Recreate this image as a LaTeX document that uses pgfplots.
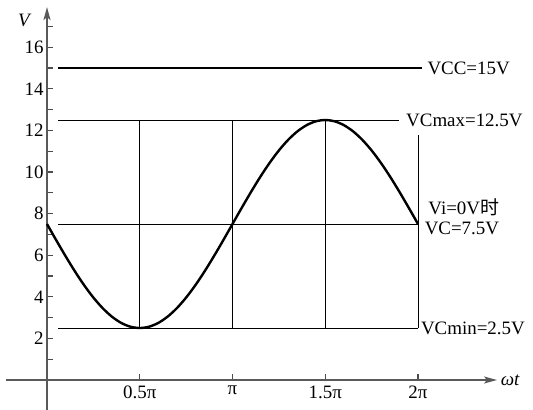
\documentclass[border=0pt]{standalone}
\usepackage{fontspec}
\setmainfont{Liberation Serif}
\newfontfamily\cjk{Noto Sans CJK SC}
\usepackage{pgfplots}
\pgfplotsset{compat=1.18}
\usetikzlibrary{arrows.meta}
\newcommand{\fs}{\fontsize{19}{22}\selectfont}
\begin{document}
\begin{tikzpicture}
\begin{axis}[
  x=185.5bp, y=20.8bp,
  xmin=-0.22, xmax=2.426, ymin=-1.44, ymax=17.93,
  axis lines=middle,
  axis line style={line width=1.8bp, black!65, -{Stealth[length=13bp,width=7bp,inset=3bp]}},
  clip=false,
  xtick={0.5,1,1.5,2},
  xticklabels={0.5π,π,1.5π,2π},
  ytick={2,4,...,16},
  minor ytick={1,3,...,17},
  tick align=inside,
  major tick length=6bp,
  minor tick length=6bp,
  tick style={line width=1.2bp, black!70},
  /pgf/number format/assume math mode=true,
  ticklabel style={font=\fs},
  xticklabel style={yshift=-2bp},
]
\coordinate (bl) at (axis cs:-0.2534,-1.44);
\coordinate (tr) at (axis cs:2.62,18.27);
% reference lines
\addplot[black, line width=2.6bp] coordinates {(0.06,15) (2.02,15)};
\addplot[black, line width=1bp] coordinates {(0.06,12.5) (1.90,12.5)};
\addplot[black, line width=1bp] coordinates {(0.06,7.5) (2.0,7.5)};
\addplot[black, line width=1bp] coordinates {(0.06,2.5) (2.0,2.5)};
\addplot[black, line width=1bp] coordinates {(0.5,2.5) (0.5,12.5)};
\addplot[black, line width=1bp] coordinates {(1,2.5) (1,12.5)};
\addplot[black, line width=1bp] coordinates {(1.5,2.5) (1.5,12.5)};
\addplot[black, line width=1bp] coordinates {(2,2.5) (2,11.8)};
% waveform
\addplot[black, line width=2.4bp, smooth] coordinates {
(0.00,7.5) (0.05,6.718) (0.10,5.955) (0.15,5.230) (0.20,4.561) (0.25,3.964)
(0.30,3.455) (0.35,3.045) (0.40,2.745) (0.45,2.562) (0.50,2.5)
(0.55,2.562) (0.60,2.745) (0.65,3.045) (0.70,3.455) (0.75,3.964)
(0.80,4.561) (0.85,5.230) (0.90,5.955) (0.95,6.718) (1.00,7.5)
(1.05,8.282) (1.10,9.045) (1.15,9.770) (1.20,10.439) (1.25,11.036)
(1.30,11.545) (1.35,11.955) (1.40,12.255) (1.45,12.438) (1.50,12.5)
(1.55,12.438) (1.60,12.255) (1.65,11.955) (1.70,11.545) (1.75,11.036)
(1.80,10.439) (1.85,9.770) (1.90,9.045) (1.95,8.282) (2.00,7.5)
};
% annotations
\node[anchor=west, font=\fs, inner sep=1bp] at (axis cs:2.045,15) {VCC=15V};
\node[anchor=west, font=\fs, inner sep=1bp] at (axis cs:1.93,12.5) {VCmax=12.5V};
\node[anchor=west, font=\fs, inner sep=1bp] at (axis cs:2.05,8.3) {Vi=0V{\cjk 时}};
\node[anchor=west, font=\fs, inner sep=1bp] at (axis cs:2.03,7.3) {VC=7.5V};
\node[anchor=west, font=\fs, inner sep=1bp] at (axis cs:2.01,2.5) {VCmin=2.5V};
\node[font=\fs\itshape, inner sep=0pt] at (axis cs:-0.124,17.3) {V};
\node[anchor=west, font=\fs\itshape, inner sep=1bp] at (axis cs:2.44,0) {ωt};
\end{axis}
\pgfresetboundingbox
\useasboundingbox (bl) rectangle (tr);
\end{tikzpicture}
\end{document}
